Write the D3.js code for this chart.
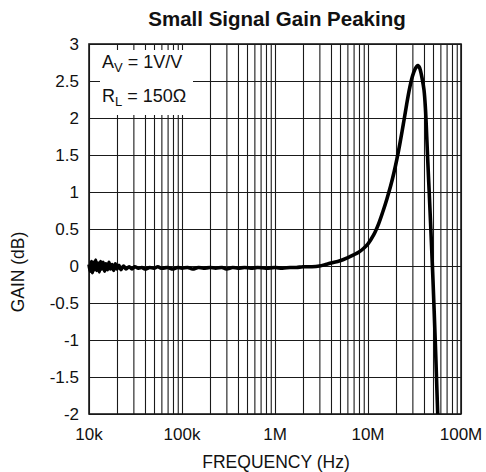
<!DOCTYPE html>
<html>
<head>
<meta charset="utf-8">
<script src="https://cdn.jsdelivr.net/npm/d3@7"></script>
<style>
  html, body { margin: 0; padding: 0; background: #fff; }
  svg text { font-family: Arial, "Liberation Sans", sans-serif; fill: #111; }
</style>
</head>
<body>
<svg id="chart" width="486" height="472"></svg>
<script>
// ---- data ----
const chartTitle = "Small Signal Gain Peaking";
const xAxisTitle = "FREQUENCY (Hz)";
const yAxisTitle = "GAIN (dB)";
const xTickValues = [1e4, 1e5, 1e6, 1e7, 1e8];
const xTickLabels = ["10k", "100k", "1M", "10M", "100M"];
const yTickValues = [-2, -1.5, -1, -0.5, 0, 0.5, 1, 1.5, 2, 2.5, 3];
const yTickLabels = ["-2", "-1.5", "-1", "-0.5", "0", "0.5", "1", "1.5", "2", "2.5", "3"];
const freqHz = [
  10000, 10300, 10600, 10900, 11200, 11500, 11800, 12100, 12500, 12900, 13300, 13700,
  14200, 14700, 15200, 15800, 16400, 17000, 17700, 18400, 19200, 20000, 21000, 22000,
  23500, 25000, 27000, 29000, 31000, 34000, 37000, 40000, 45000, 50000, 55000, 60000,
  70000, 80000, 90000, 100000, 115000, 130000, 150000, 170000, 200000, 230000, 270000,
  300000, 350000, 400000, 470000, 550000, 650000, 800000, 1000000, 1200000, 1450000,
  1700000, 2000000, 2500000, 3000000, 3500000, 4000000, 5000000, 6000000, 7000000,
  8000000, 9000000, 10000000, 11500000, 13000000, 14500000, 16000000, 17500000,
  19000000, 20500000, 22000000, 24000000, 26000000, 28000000, 30000000, 32000000,
  33500000, 34500000, 35500000, 36500000, 38000000, 40000000, 41500000, 42800000,
  44000000, 45500000, 47000000, 48500000, 50000000, 51500000, 53000000, 54500000,
  55500000, 56200000
];
const gainDb = [
  0.02, -0.07, 0.06, -0.09, 0.05, -0.05, 0.08, -0.06, 0.04, -0.08, 0.06, -0.04,
  0.05, -0.07, 0.03, -0.05, 0.05, -0.04, 0.02, -0.06, 0.03, -0.04, 0.01, -0.05,
  0.0, -0.04, -0.01, -0.04, -0.01, -0.03, -0.02, -0.04, -0.02, -0.03, -0.01, -0.03,
  -0.02, -0.04, -0.02, -0.03, -0.02, -0.04, -0.02, -0.03, -0.02, -0.03, -0.02,
  -0.04, -0.02, -0.03, -0.02, -0.03, -0.02, -0.03, -0.02, -0.03, -0.02,
  -0.02, -0.01, -0.01, 0.0, 0.02, 0.04, 0.07, 0.11, 0.15,
  0.19, 0.24, 0.3, 0.42, 0.57, 0.74, 0.91, 1.08,
  1.26, 1.45, 1.65, 1.92, 2.18, 2.4, 2.56, 2.66,
  2.7, 2.71, 2.69, 2.65, 2.55, 2.38, 2.12, 1.75,
  1.4, 1.0, 0.6, 0.2, -0.2, -0.62, -1.05, -1.5,
  -1.8, -2.0
];
const legendLines = [["A", "V", " = 1V/V"], ["R", "L", " = 150Ω"]];

// ---- layout ----
const plot = { left: 89, right: 461, top: 44, bottom: 414 };
const svg = d3.select("#chart");

const x = d3.scaleLog().domain([1e4, 1e8]).range([plot.left, plot.right]);
const y = d3.scaleLinear().domain([-2, 3]).range([plot.bottom, plot.top]);

const gridColor = "#1a1a1a";

// vertical grid (major + minor) via axis
const xGrid = d3.axisBottom(x)
  .tickValues(x.ticks())
  .tickSize(-(plot.bottom - plot.top))
  .tickFormat("");
svg.append("g")
  .attr("transform", `translate(0,${plot.bottom})`)
  .call(xGrid)
  .call(g => g.select(".domain").remove())
  .call(g => g.selectAll("line").attr("stroke", gridColor).attr("stroke-width", 1.1));

// horizontal grid
const yGrid = d3.axisLeft(y)
  .tickValues(yTickValues)
  .tickSize(-(plot.right - plot.left))
  .tickFormat("");
svg.append("g")
  .attr("transform", `translate(${plot.left},0)`)
  .call(yGrid)
  .call(g => g.select(".domain").remove())
  .call(g => g.selectAll("line").attr("stroke", gridColor).attr("stroke-width", 1.1));

// frame
svg.append("rect")
  .attr("x", plot.left).attr("y", plot.top)
  .attr("width", plot.right - plot.left).attr("height", plot.bottom - plot.top)
  .attr("fill", "none").attr("stroke", gridColor).attr("stroke-width", 1.6);

// legend background
svg.append("rect")
  .attr("x", 100).attr("y", 50).attr("width", 93).attr("height", 65)
  .attr("fill", "#fff");

const legend = svg.append("g");
legendLines.forEach((ln, i) => {
  const t = legend.append("text")
    .attr("x", 102).attr("y", 68 + i * 34)
    .attr("font-size", 18);
  t.append("tspan").text(ln[0]);
  t.append("tspan").attr("font-size", 13).attr("dy", 4).text(ln[1]);
  t.append("tspan").attr("dy", -4).text(ln[2]);
});

// curve
const data = freqHz.map((f, i) => ({ f, g: gainDb[i] }));
const line = d3.line()
  .x(d => x(d.f))
  .y(d => y(d.g))
  .curve(d3.curveCatmullRom.alpha(0.5));
svg.append("path")
  .datum(data)
  .attr("d", line)
  .attr("fill", "none")
  .attr("stroke", "#000")
  .attr("stroke-width", 3.6)
  .attr("stroke-linejoin", "round");

// x tick labels
svg.append("g").selectAll("text")
  .data(xTickValues)
  .join("text")
  .attr("x", d => x(d))
  .attr("y", 440)
  .attr("text-anchor", "middle")
  .attr("font-size", 17)
  .text((d, i) => xTickLabels[i]);

// y tick labels
svg.append("g").selectAll("text")
  .data(yTickValues)
  .join("text")
  .attr("x", 79)
  .attr("y", d => y(d))
  .attr("dy", "0.35em")
  .attr("text-anchor", "end")
  .attr("font-size", 17)
  .text((d, i) => yTickLabels[i]);

// titles
svg.append("text")
  .attr("x", 277).attr("y", 26)
  .attr("text-anchor", "middle")
  .attr("font-size", 20.5)
  .attr("font-weight", "bold")
  .text(chartTitle);

svg.append("text")
  .attr("x", 276).attr("y", 468)
  .attr("text-anchor", "middle")
  .attr("font-size", 17.5)
  .text(xAxisTitle);

svg.append("text")
  .attr("transform", "translate(24,272) rotate(-90)")
  .attr("text-anchor", "middle")
  .attr("font-size", 17.5)
  .text(yAxisTitle);
</script>
</body>
</html>
